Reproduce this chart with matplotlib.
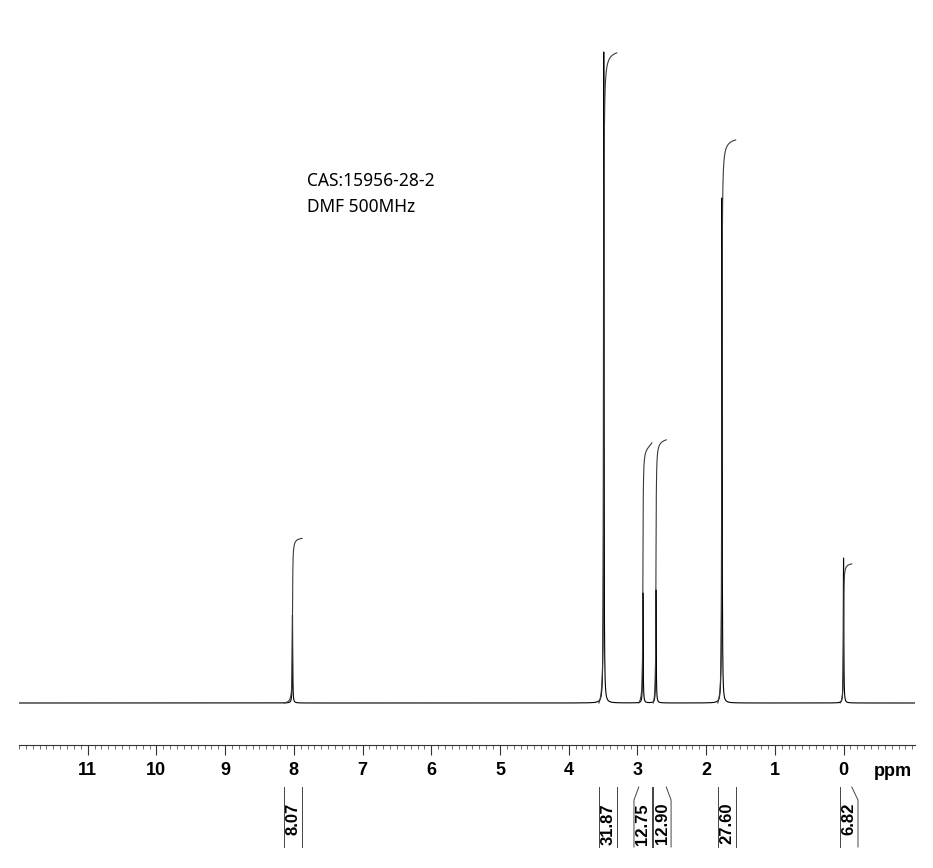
import matplotlib
matplotlib.use('Agg')
import matplotlib.pyplot as plt
import numpy as np
from matplotlib.ticker import FixedLocator, MultipleLocator
from matplotlib.transforms import blended_transform_factory

# peaks (ppm, height in baseline-relative units)
peak_ppm = [8.02, 3.49, 2.92, 2.73, 1.77, 0.00]
peak_height = [88, 651, 110, 113, 505, 145]
peak_width = 0.004  # ppm, half width

# integrals: region limits (ppm), value, label centre
int_hi = [8.14, 3.56, 2.98, 2.77, 1.83, 0.05]
int_lo = [7.88, 3.30, 2.79, 2.58, 1.57, -0.12]
int_values = [8.07, 31.87, 12.75, 12.90, 27.60, 6.82]
int_label_ppm = [8.01, 3.43, 2.92, 2.64, 1.70, -0.08]
int_scale = 20.4

xmin, xmax = 12.0, -1.04
major_ticks = list(range(0, 12))

W, H = 933, 868
fig = plt.figure(figsize=(W / 100, H / 100), dpi=100)

def fx(px):
    return px / W

def fy(py):
    return 1 - py / H

# spectrum axes
ax = fig.add_axes([fx(19), fy(720), fx(915) - fx(19), fy(30) - fy(720)])
ax.set_xlim(xmin, xmax)
ax.set_ylim(-17, 673)
ax.axis('off')

ppm = np.linspace(xmin, xmax, 80000)

def lorentz(x, p, h):
    return h / (1 + ((x - p) / peak_width) ** 2)

spec = np.zeros_like(ppm)
for p, h in zip(peak_ppm, peak_height):
    spec += lorentz(ppm, p, h)
ax.plot(ppm, spec, color='black', linewidth=0.8)

# integral curves
for hi, lo, v in zip(int_hi, int_lo, int_values):
    m = (ppm <= hi) & (ppm >= lo)
    seg = spec[m]
    cum = np.cumsum(seg)
    cum = cum / cum[-1] * v * int_scale
    ax.plot(ppm[m], cum, color='#3a3a3a', linewidth=0.8)

# ppm scale axis
ax2 = fig.add_axes([fx(19), fy(745), fx(915) - fx(19), 0.0001])
ax2.set_xlim(xmin, xmax)
for s in ['left', 'right', 'top']:
    ax2.spines[s].set_visible(False)
ax2.spines['bottom'].set_linewidth(0.8)
ax2.spines['bottom'].set_color('#333333')
ax2.set_yticks([])
ax2.xaxis.set_major_locator(FixedLocator(major_ticks))
ax2.xaxis.set_minor_locator(MultipleLocator(0.1))
ax2.tick_params(axis='x', which='major', direction='out', length=7, width=0.8,
                pad=5, color='#333333')
ax2.tick_params(axis='x', which='minor', direction='out', length=2.8, width=0.6,
                color='#555555')
for lab in ax2.get_xticklabels():
    lab.set_fontfamily('Liberation Sans')
    lab.set_fontweight('bold')
    lab.set_fontsize(13)

fig.text(fx(893), fy(771), 'ppm', ha='center', va='center',
         fontsize=13, fontweight='bold', family='Liberation Sans')

# integral brackets and values below the scale
tr = blended_transform_factory(ax2.transData, fig.transFigure)
half = 0.13
for hi, lo, v, lp in zip(int_hi, int_lo, int_values, int_label_ppm):
    ax2.plot([hi, lp + half, lp + half], [fy(787), fy(800), fy(847)],
             color='#444444', linewidth=0.7, transform=tr, clip_on=False)
    ax2.plot([lo, lp - half, lp - half], [fy(787), fy(800), fy(847)],
             color='#444444', linewidth=0.7, transform=tr, clip_on=False)
    ax2.text(lp, fy(803), '%.2f' % v, rotation=90, ha='center', va='top',
             fontsize=12, fontweight='bold', family='Liberation Sans',
             transform=tr)

fig.text(fx(307), fy(181), 'CAS:15956-28-2', ha='left', va='center',
         fontsize=12.5, family='Noto Sans')
fig.text(fx(307), fy(207), 'DMF 500MHz', ha='left', va='center',
         fontsize=12.5, family='Noto Sans')

fig.savefig('out.png', dpi=100)
